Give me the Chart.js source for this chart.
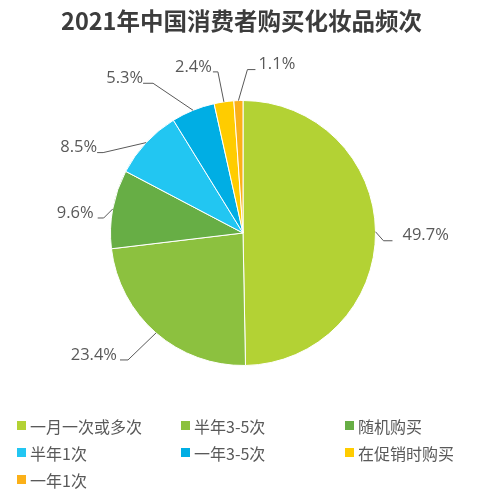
<!DOCTYPE html>
<html>
<head>
<meta charset="utf-8">
<script src="https://cdn.jsdelivr.net/npm/chart.js@4"></script>
<style>
    html, body { margin: 0; padding: 0; background: #fff; }
    #wrap { position: relative; width: 483px; height: 496px; }
    #title {
        position: absolute; left: 0; top: 0; width: 483px; height: 40px; line-height: 40px;
        text-align: center; color: #3c3c3c;
        font-family: "Noto Sans CJK SC", sans-serif; font-size: 23.5px; font-weight: bold;
    }
    #legend {
        position: absolute; left: 17px; top: 414px;
        display: grid; grid-template-columns: 164px 164px 130px;
        row-gap: 4px;
        font-family: "Noto Sans CJK SC", sans-serif; font-size: 16px; color: #595959;
    }
    #legend .item { display: flex; align-items: center; height: 23px; white-space: nowrap; }
    #legend .box { width: 9px; height: 9px; margin-right: 4px; flex: none; }
</style>
</head>
<body>
<div id="wrap">
    <canvas id="pie" width="483" height="496"></canvas>
    <div id="title">2021年中国消费者购买化妆品频次</div>
    <div id="legend"></div>
</div>
<script>
// ========== DATA ========== //
const categories = ['一月一次或多次', '半年3-5次', '随机购买', '半年1次', '一年3-5次', '在促销时购买', '一年1次'];
const shares = [49.7, 23.4, 9.6, 8.5, 5.3, 2.4, 1.1];
const sliceColors = ['#b3d234', '#8cc13f', '#67ae45', '#22c6f2', '#00aee4', '#ffcc00', '#fbb018'];

// leader line shape per slice: elbow offset from the slice edge, horizontal run, text gap
const leaderLayout = [
    { dx: 8, dy: 9, run: 9, gap: 10 },
    { dx: -28, dy: 27, run: -8, gap: 3 },
    { dx: -9, dy: 9, run: -6, gap: 4 },
    { dx: -43, dy: 10, run: -6, gap: 0 },
    { dx: -40, dy: -27, run: -10, gap: 0 },
    { dx: -6, dy: -30, run: -5, gap: 1 },
    { dx: 9, dy: -31, run: 8, gap: 3 }
];

// ========== LABEL PLUGIN ========== //
const leaderLabels = {
    id: 'leaderLabels',
    afterDatasetsDraw(chart) {
        const ctx = chart.ctx;
        const arcs = chart.getDatasetMeta(0).data;
        ctx.save();
        ctx.strokeStyle = '#595959';
        ctx.lineWidth = 1;
        ctx.fillStyle = '#595959';
        ctx.font = '16.5px "Open Sans", sans-serif';
        ctx.textBaseline = 'middle';
        arcs.forEach((arc, i) => {
            const mid = (arc.startAngle + arc.endAngle) / 2;
            const ex = arc.x + Math.cos(mid) * arc.outerRadius;
            const ey = arc.y + Math.sin(mid) * arc.outerRadius;
            const l = leaderLayout[i];
            const bx = ex + l.dx, by = ey + l.dy;
            const hx = bx + l.run;
            ctx.beginPath();
            ctx.moveTo(ex, ey);
            ctx.lineTo(bx, by);
            ctx.lineTo(hx, by);
            ctx.stroke();
            const right = l.run > 0;
            ctx.textAlign = right ? 'left' : 'right';
            ctx.fillText(shares[i].toFixed(1) + '%', hx + (right ? l.gap : -l.gap), by - 5);
        });
        ctx.restore();
    }
};

// ========== CHART ========== //
const chart = new Chart(document.getElementById('pie'), {
    type: 'pie',
    data: {
        labels: categories,
        datasets: [{
            data: shares,
            backgroundColor: sliceColors,
            borderColor: '#ffffff',
            borderWidth: 1
        }]
    },
    options: {
        responsive: false,
        animation: false,
        layout: { padding: { top: 100, bottom: 130, left: 103, right: 100 } },
        plugins: {
            legend: { display: false },
            tooltip: { enabled: false },
            title: { display: false }
        }
    },
    plugins: [leaderLabels]
});

// ========== LEGEND ========== //
const legendEl = document.getElementById('legend');
categories.forEach((name, i) => {
    const item = document.createElement('div');
    item.className = 'item';
    item.innerHTML = `<span class="box" style="background:${sliceColors[i]}"></span><span>${name}</span>`;
    legendEl.appendChild(item);
});
</script>
</body>
</html>
